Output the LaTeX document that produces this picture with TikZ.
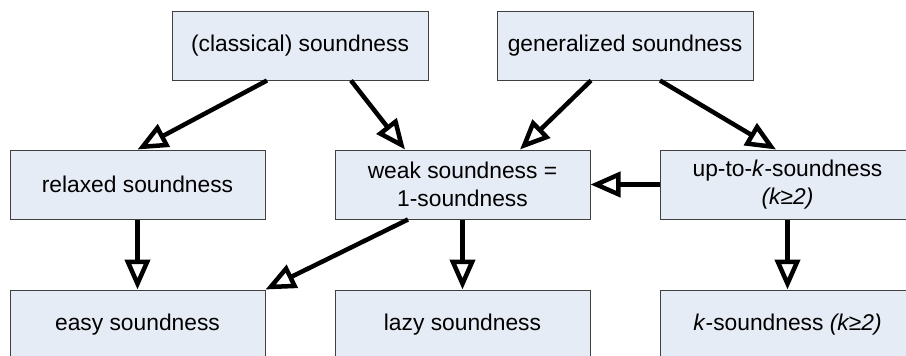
\documentclass[tikz,border=0pt]{standalone}
\usepackage{xcolor}
\definecolor{boxfill}{HTML}{E6ECF6}
\definecolor{boxline}{HTML}{404040}
\usepackage{fontspec}
\setmainfont{Liberation Sans}
\usepackage{tikz}
\usetikzlibrary{arrows.meta}
\begin{document}
\begin{tikzpicture}[x=1pt, y=-1pt,
  notion/.style={shape=rectangle, draw=boxline, line width=1pt, fill=boxfill, minimum width=255pt, minimum height=69pt, align=center, inner sep=0pt, font=\fontsize{22.8}{28}\selectfont},
  impl/.style={line width=4.5pt, -{Triangle[open, length=30pt, width=25pt]}}]
            \clip (0,0) rectangle (906,356);

            \node (classic) [notion, minimum width=256pt] at (300, 45.5) {(classical) soundness};
            \node (general) [notion, minimum width=256pt] at (625, 45.5) {generalized soundness};
            \node (relaxed) [notion] at (137.5, 184.5) {relaxed soundness};
            \node (weak)    [notion] at (462.5, 184.5) {weak soundness =\\1-soundness};
            \node (upto)    [notion] at (787.5, 184.5) {up-to-\textit{k}-soundness\\\textit{(k≥2)}};
            \node (easy)    [notion] at (137.5, 324.5) {easy soundness};
            \node (lazy)    [notion] at (462.5, 324.5) {lazy soundness};
            \node (ksound)  [notion] at (787.5, 324.5) {\textit{k}-soundness \textit{(k≥2)}};

            \draw[impl] ([xshift=-33pt]classic.south) -- (relaxed.north);
            \draw[impl] ([xshift=51pt]classic.south) -- ([xshift=-57.5pt]weak.north);
            \draw[impl] ([xshift=-34pt]general.south) -- ([xshift=57.5pt]weak.north);
            \draw[impl] ([xshift=35pt]general.south) -- ([xshift=-11.5pt]upto.north);
            \draw[impl] (upto.west) -- (weak.east);
            \draw[impl] (relaxed.south) -- (easy.north);
            \draw[impl] ([xshift=-54.5pt]weak.south) -- (easy.north east);
            \draw[impl] (weak.south) -- (lazy.north);
            \draw[impl] (upto.south) -- (ksound.north);
\end{tikzpicture}
\end{document}
